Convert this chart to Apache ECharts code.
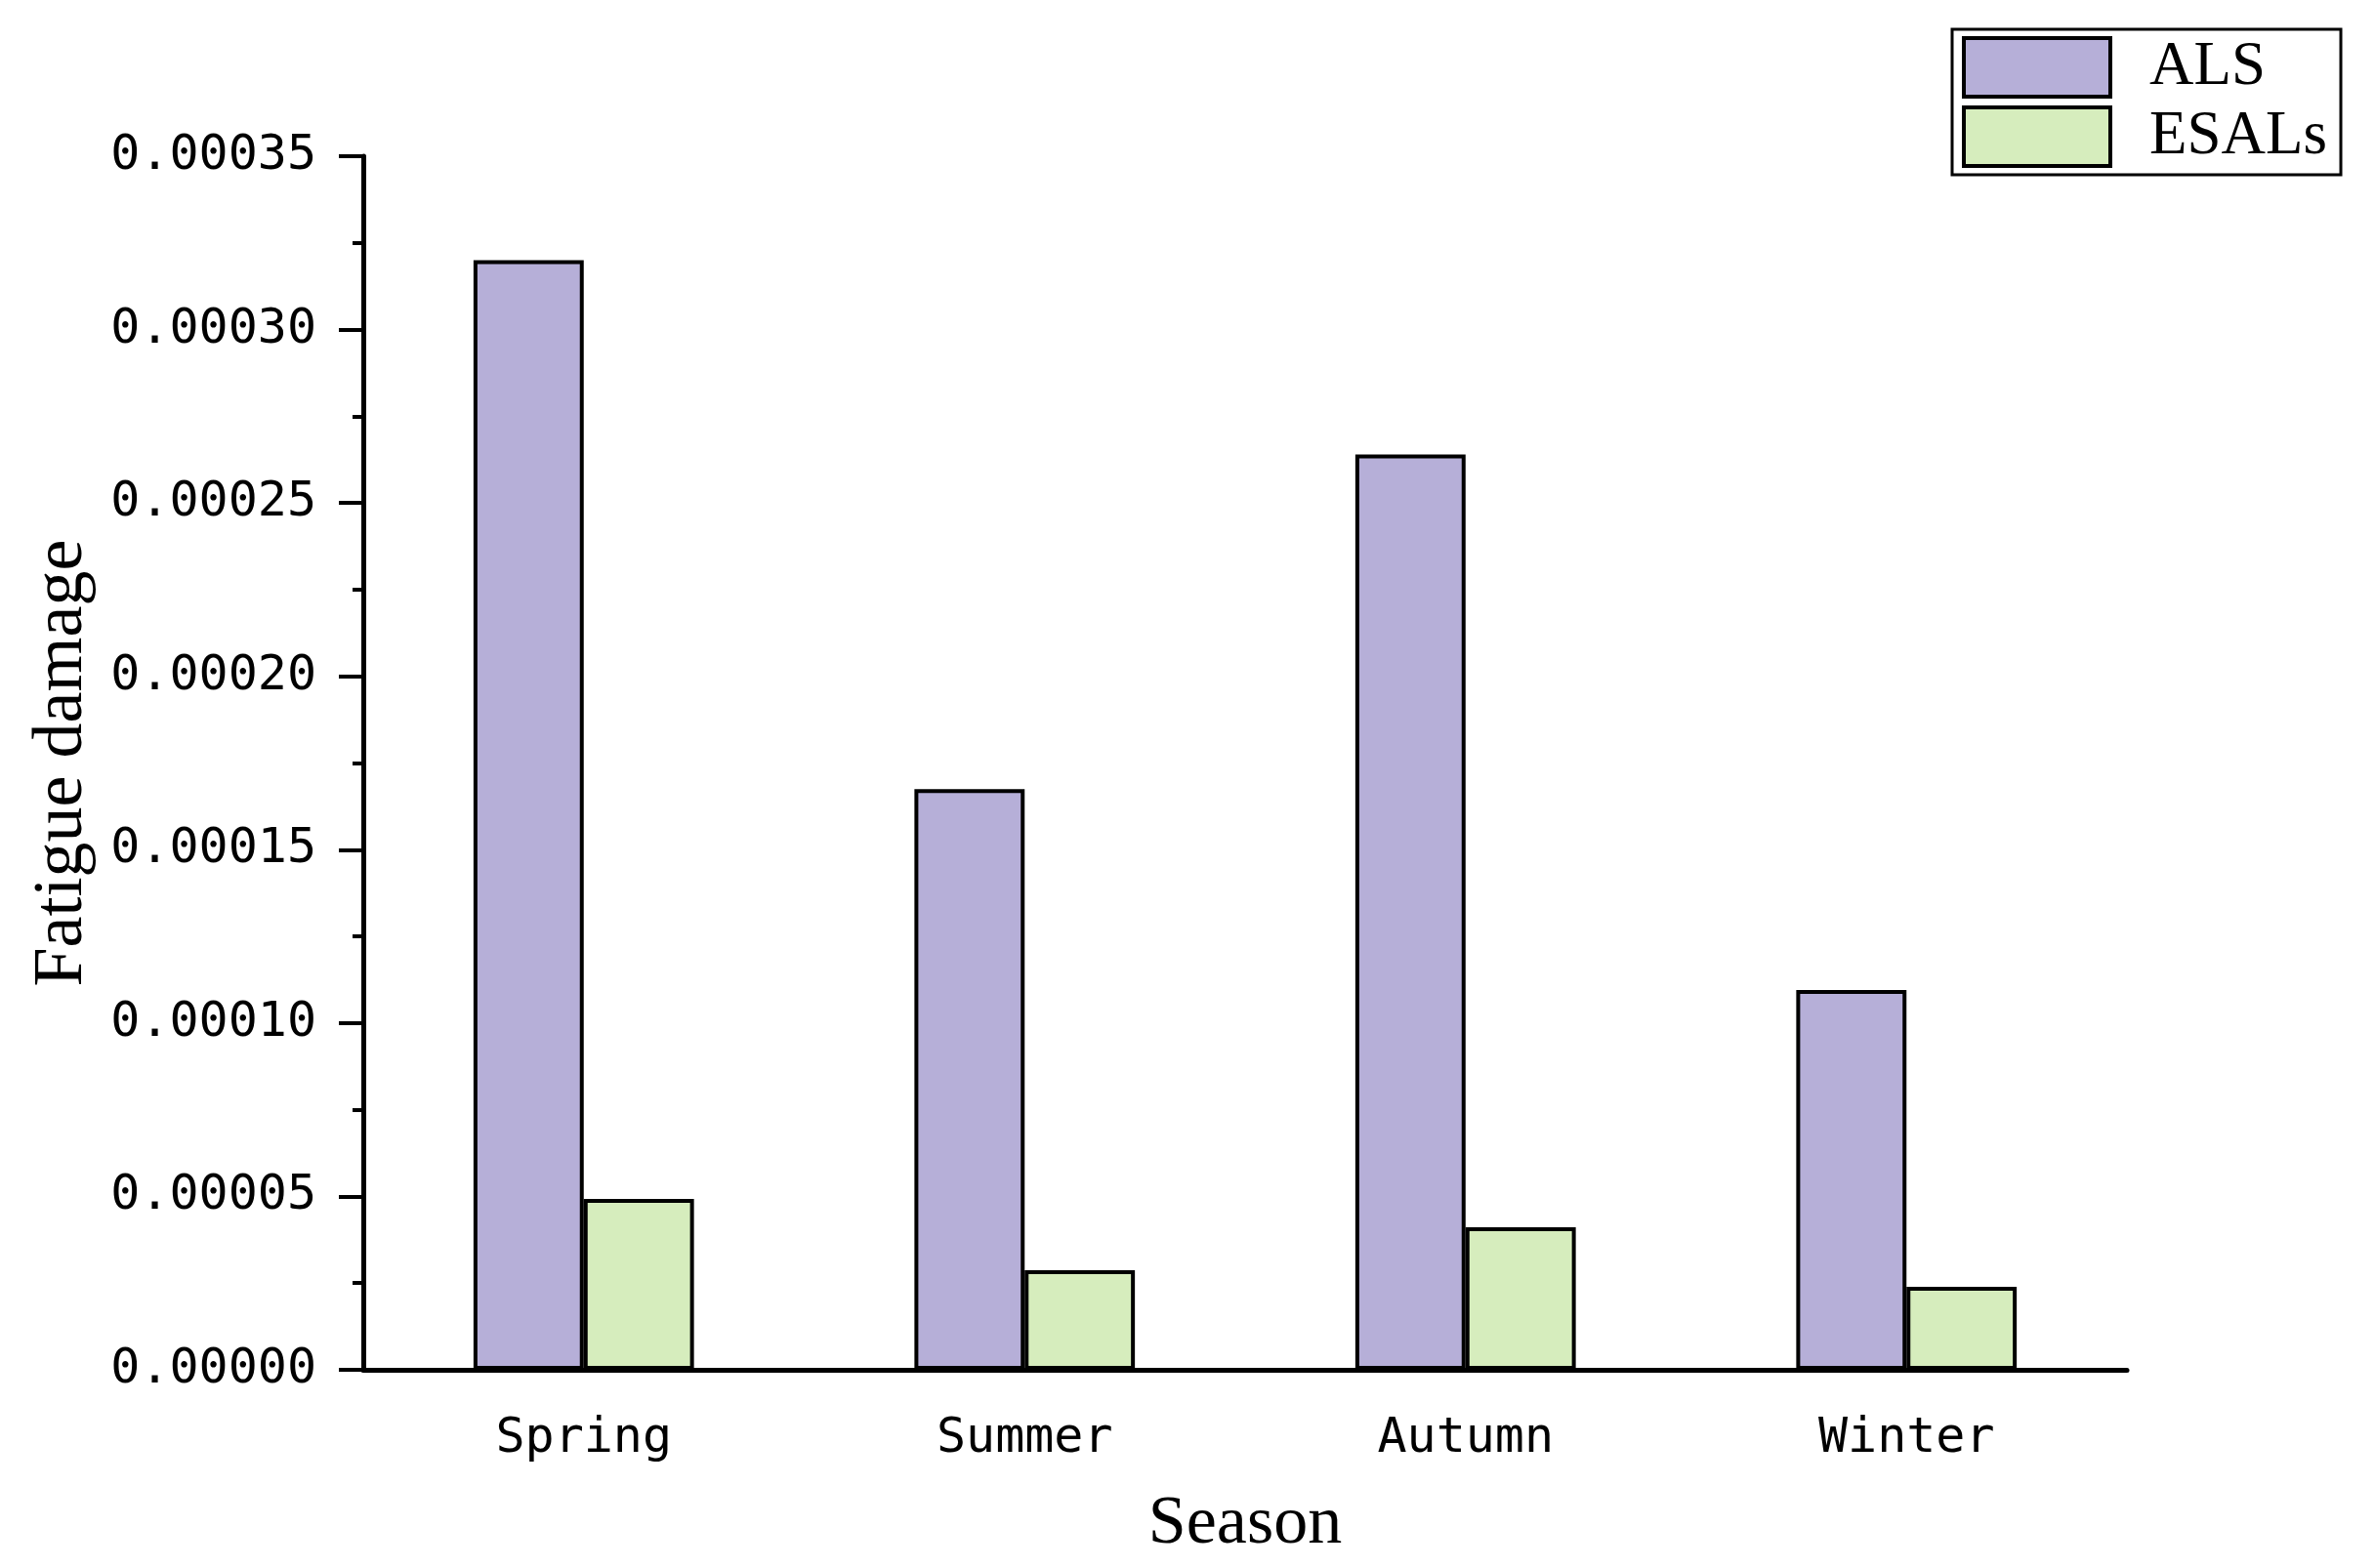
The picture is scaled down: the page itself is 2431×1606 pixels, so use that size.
<!DOCTYPE html>
<html>
<head>
<meta charset="utf-8">
<script src="https://cdn.jsdelivr.net/npm/echarts@6/dist/echarts.min.js"></script>
<style>
  html, body { margin: 0; padding: 0; background: #fff; }
  #chart { width: 2431px; height: 1606px; }
</style>
</head>
<body>
<div id="chart"></div>
<script>
var seasons = ['Spring', 'Summer', 'Autumn', 'Winter']
var alsValues = [0.000320, 0.0001675, 0.000264, 0.0001095]
var esalValues = [0.0000493, 0.0000287, 0.0000411, 0.0000239]
var seriesNames = ['ALS', 'ESALs']

var chart = echarts.init(document.getElementById('chart'))

var monoFont = '"DejaVu Sans Mono", "Liberation Mono", monospace'
var serifFont = '"Liberation Serif", "DejaVu Serif", serif'

let option = {
    backgroundColor: '#ffffff',
    animation: false,
    grid: {
        left: 372,
        right: 253,
        top: 160,
        bottom: 203
    },
    legend: {
        left: 1999,
        top: 30,
        orient: 'vertical',
        padding: [7, 14, 7, 10],
        itemGap: 7,
        itemWidth: 150,
        itemHeight: 60,
        borderColor: '#000',
        borderWidth: 3,
        icon: 'rect',
        itemStyle: {
            borderColor: '#000',
            borderWidth: 4
        },
        textStyle: {
            fontFamily: serifFont,
            fontSize: 63,
            lineHeight: 60,
            color: '#000',
            padding: [0, 0, 0, 35]
        },
        data: seriesNames
    },
    xAxis: [
        {
            type: 'category',
            data: seasons,
            name: 'Season',
            nameLocation: 'middle',
            nameGap: 124,
            nameTextStyle: {
                fontFamily: serifFont,
                fontSize: 70,
                color: '#000'
            },
            axisLine: {
                lineStyle: { color: '#000', width: 5 }
            },
            axisTick: {
                alignWithLabel: true,
                length: 23,
                lineStyle: { color: '#000', width: 4 }
            },
            axisLabel: {
                margin: 46,
                fontFamily: monoFont,
                fontSize: 50,
                color: '#000'
            }
        },
        {
            type: 'category',
            data: seasons,
            position: 'bottom',
            axisLine: { show: false },
            axisTick: {
                length: 12,
                lineStyle: { color: '#000', width: 4 }
            },
            axisLabel: { show: false }
        }
    ],
    yAxis: {
        type: 'value',
        min: 0,
        max: 0.00035,
        interval: 0.00005,
        name: 'Fatigue damage',
        nameLocation: 'middle',
        nameGap: 272,
        nameTextStyle: {
            fontFamily: serifFont,
            fontSize: 72,
            color: '#000'
        },
        axisLine: {
            show: true,
            lineStyle: { color: '#000', width: 5 }
        },
        axisTick: {
            show: true,
            length: 25,
            lineStyle: { color: '#000', width: 4 }
        },
        minorTick: {
            show: true,
            splitNumber: 2,
            length: 11,
            lineStyle: { color: '#000', width: 4 }
        },
        splitLine: { show: false },
        axisLabel: {
            margin: 48,
            fontFamily: monoFont,
            fontSize: 50,
            color: '#000',
            formatter: function (v) {
                return v.toFixed(5)
            }
        }
    },
    series: [
        {
            name: seriesNames[0],
            type: 'bar',
            data: alsValues,
            barWidth: '25%',
            barGap: '0%',
            itemStyle: {
                color: '#b6afd8',
                borderColor: '#000',
                borderWidth: 4
            }
        },
        {
            name: seriesNames[1],
            type: 'bar',
            data: esalValues,
            barWidth: '25%',
            barGap: '0%',
            itemStyle: {
                color: '#d6edbd',
                borderColor: '#000',
                borderWidth: 4
            }
        }
    ]
};

chart.setOption(option)
</script>
</body>
</html>
